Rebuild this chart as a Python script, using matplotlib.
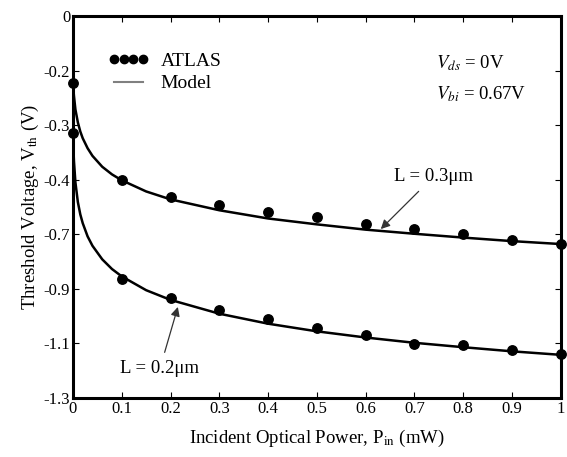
import matplotlib
matplotlib.use("Agg")
import matplotlib.pyplot as plt
from matplotlib.lines import Line2D
import numpy as np

plt.rcParams['font.family'] = ['Liberation Serif', 'DejaVu Serif']
plt.rcParams['mathtext.fontset'] = 'stix'

# ATLAS simulation points
p_atlas = [0, 0.1, 0.2, 0.3, 0.4, 0.5, 0.6, 0.7, 0.8, 0.9, 1.0]
vth_atlas_03 = [-0.229, -0.559, -0.617, -0.644, -0.667, -0.685, -0.708, -0.726, -0.742, -0.762, -0.777]
vth_atlas_02 = [-0.397, -0.895, -0.959, -0.999, -1.030, -1.060, -1.087, -1.115, -1.119, -1.136, -1.149]

# model curves
p_model = [0, 0.001, 0.002, 0.005, 0.01, 0.015, 0.02, 0.03, 0.04, 0.06, 0.08, 0.1,
           0.15, 0.2, 0.3, 0.4, 0.5, 0.6, 0.7, 0.8, 0.9, 1.0]
vth_model_03 = [-0.225, -0.252, -0.272, -0.318, -0.362, -0.393, -0.416, -0.450, -0.476, -0.513,
                -0.539, -0.559, -0.597, -0.624, -0.661, -0.689, -0.709, -0.727, -0.741, -0.754,
                -0.766, -0.776]
vth_model_02 = [-0.395, -0.455, -0.494, -0.566, -0.633, -0.675, -0.705, -0.750, -0.782, -0.828,
                -0.861, -0.886, -0.933, -0.966, -1.013, -1.047, -1.073, -1.094, -1.112, -1.127,
                -1.141, -1.153]

x_ticks = [0, 0.1, 0.2, 0.3, 0.4, 0.5, 0.6, 0.7, 0.8, 0.9, 1]
x_ticklabels = ['0', '0.1', '0.2', '0.3', '0.4', '0.5', '0.6', '0.7', '0.8', '0.9', '1']
y_ticklabels = ['0', '-0.2', '-0.3', '-0.4', '-0.7', '-0.9', '-1.1', '-1.3']

fig = plt.figure(figsize=(5.67, 4.57), dpi=100)
ax = fig.add_axes([0.1287, 0.129, 0.8603, 0.836])

ax.plot(p_model, vth_model_03, color='black', lw=1.8, zorder=2)
ax.plot(p_model, vth_model_02, color='black', lw=1.8, zorder=2)
ax.plot(p_atlas, vth_atlas_03, 'o', color='black', ms=6.8, clip_on=False, zorder=3)
ax.plot(p_atlas, vth_atlas_02, 'o', color='black', ms=6.8, clip_on=False, zorder=3)

ax.set_xlim(0, 1)
ax.set_ylim(-1.3, 0)
ax.set_xticks(x_ticks)
ax.set_xticklabels(x_ticklabels)
ax.set_yticks(np.linspace(0, -1.3, len(y_ticklabels)))
ax.set_yticklabels(y_ticklabels)
ax.tick_params(direction='in', length=4, width=0.8, labelsize=12, top=True, right=True, pad=2)
for s in ax.spines.values():
    s.set_linewidth(2.2)

ax.set_xlabel('Incident Optical Power, P$_{\\mathrm{in}}$ (mW)', fontsize=13.5, labelpad=8)
ax.set_ylabel('Threshold Voltage, V$_{\\mathrm{th}}$ (V)', fontsize=13.5, labelpad=2)

handles = [Line2D([], [], ls='none', marker='o', color='black', ms=6),
           Line2D([], [], color='gray', lw=1.5)]
ax.legend(handles, ['ATLAS', 'Model'], loc='upper left', bbox_to_anchor=(0.072, 0.905),
          frameon=False, numpoints=4, handlelength=2.1, handletextpad=0.6,
          labelspacing=0.25, borderpad=0, borderaxespad=0, fontsize=14)

ax.text(0.744, -0.160, '$V_{ds}$ = 0V', fontsize=13.5, va='center')
ax.text(0.744, -0.266, '$V_{bi}$ = 0.67V', fontsize=13.5, va='center')

ax.annotate('L = 0.3\u03bcm', xy=(0.631, -0.725), xytext=(0.740, -0.545),
            ha='center', va='center', fontsize=13.5,
            arrowprops=dict(arrowstyle='-|>', color='#333333', lw=0.9, shrinkA=4, shrinkB=0))
ax.annotate('L = 0.2\u03bcm', xy=(0.215, -0.990), xytext=(0.178, -1.201),
            ha='center', va='center', fontsize=13.5,
            arrowprops=dict(arrowstyle='-|>', color='#333333', lw=0.9, shrinkA=4, shrinkB=0))

fig.savefig('out.png', dpi=100)
